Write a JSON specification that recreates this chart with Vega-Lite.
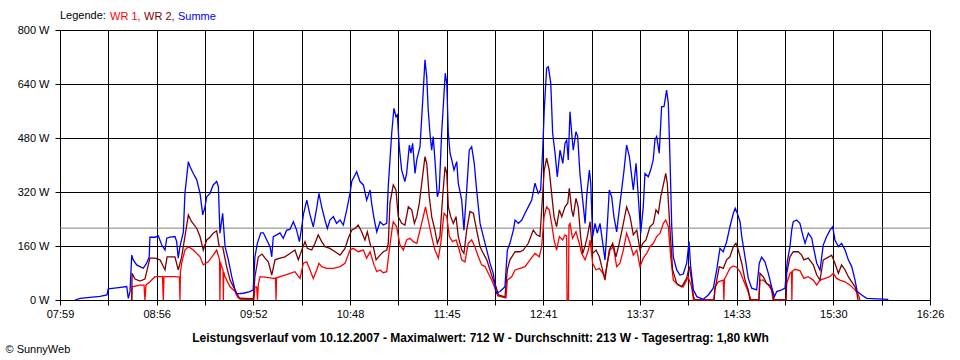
{
"$schema":"https://vega.github.io/schema/vega-lite/v6.json",
"width":870,"height":270,
"autosize":{"type":"none"},
"padding":{"left":60,"top":30,"right":30,"bottom":60},
"background":"white",
"config":{"font":"Liberation Sans","view":{"stroke":null},
"axis":{"domainColor":"#000","tickColor":"#000","gridColor":"#000","gridOpacity":1,"gridWidth":1,"labelColor":"#000","labelFontSize":11,"labelFont":"Liberation Sans","tickSize":5,"titleColor":"#000","titleFont":"Liberation Sans"}},
"datasets":{
"summe":[{"t":8.7,"w":0},{"t":11.7,"w":5},{"t":17.5,"w":8},{"t":23.3,"w":11},{"t":27.4,"w":15},{"t":28.1,"w":33},{"t":33,"w":36},{"t":38.9,"w":40},{"t":39.8,"w":5},{"t":40.8,"w":25},{"t":41.8,"w":133},{"t":42.7,"w":119},{"t":44.7,"w":104},{"t":46.6,"w":99},{"t":48.5,"w":94},{"t":50.5,"w":109},{"t":52.0,"w":128},{"t":52.4,"w":186},{"t":55.4,"w":186},{"t":57.3,"w":190},{"t":59.3,"w":163},{"t":61.2,"w":148},{"t":62.2,"w":183},{"t":64.1,"w":186},{"t":67.0,"w":188},{"t":68.0,"w":173},{"t":68.9,"w":124},{"t":69.9,"w":158},{"t":71.9,"w":202},{"t":72.8,"w":316},{"t":74.8,"w":410},{"t":75.8,"w":395},{"t":77.7,"w":375},{"t":79.7,"w":356},{"t":81.6,"w":316},{"t":83.2,"w":252},{"t":84.5,"w":276},{"t":85.5,"w":306},{"t":87.4,"w":316},{"t":89.3,"w":341},{"t":91.3,"w":351},{"t":92.3,"w":336},{"t":93.2,"w":198},{"t":94.8,"w":257},{"t":96.2,"w":158},{"t":98.1,"w":119},{"t":100.1,"w":69},{"t":102.0,"w":30},{"t":103.0,"w":18},{"t":106.8,"w":20},{"t":110.7,"w":25},{"t":112.6,"w":30},{"t":113.6,"w":128},{"t":115.0,"w":168},{"t":117.0,"w":199},{"t":118.5,"w":199},{"t":120.5,"w":178},{"t":122.4,"w":158},{"t":123.4,"w":128},{"t":124.3,"w":188},{"t":126.3,"w":193},{"t":128.2,"w":199},{"t":130.1,"w":183},{"t":132.1,"w":207},{"t":134.0,"w":209},{"t":136.0,"w":232},{"t":137.9,"w":207},{"t":139.5,"w":173},{"t":140.9,"w":217},{"t":141.8,"w":252},{"t":143.8,"w":296},{"t":145.7,"w":252},{"t":147.6,"w":217},{"t":149.6,"w":272},{"t":150.9,"w":316},{"t":152.5,"w":276},{"t":154.4,"w":237},{"t":155.8,"w":212},{"t":157.3,"w":237},{"t":159.3,"w":247},{"t":161.2,"w":227},{"t":163.2,"w":237},{"t":165.1,"w":222},{"t":167.1,"w":267},{"t":169.0,"w":316},{"t":170.0,"w":351},{"t":172.9,"w":380},{"t":174.8,"w":351},{"t":176.8,"w":341},{"t":178.7,"w":296},{"t":180.7,"w":326},{"t":181.6,"w":287},{"t":183.0,"w":242},{"t":184.6,"w":202},{"t":186.5,"w":232},{"t":188.4,"w":222},{"t":190.4,"w":227},{"t":191.3,"w":336},{"t":193.3,"w":494},{"t":194.6,"w":568},{"t":195.8,"w":543},{"t":196.6,"w":548},{"t":197.7,"w":454},{"t":199.1,"w":385},{"t":201.0,"w":351},{"t":202.0,"w":375},{"t":203.6,"w":459},{"t":204.5,"w":435},{"t":205.5,"w":464},{"t":206.9,"w":375},{"t":207.9,"w":415},{"t":209.8,"w":454},{"t":211.4,"w":593},{"t":212.7,"w":712},{"t":213.7,"w":662},{"t":214.6,"w":563},{"t":215.6,"w":494},{"t":216.6,"w":444},{"t":217.5,"w":484},{"t":218.5,"w":415},{"t":219.9,"w":306},{"t":221.0,"w":326},{"t":222.4,"w":494},{"t":223.8,"w":612},{"t":224.5,"w":672},{"t":225.4,"w":642},{"t":226.3,"w":494},{"t":227.3,"w":435},{"t":228.3,"w":415},{"t":229.6,"w":385},{"t":231.2,"w":410},{"t":232.1,"w":346},{"t":234.1,"w":296},{"t":235.4,"w":207},{"t":237.0,"w":326},{"t":238.5,"w":444},{"t":239.9,"w":454},{"t":241.4,"w":405},{"t":242.8,"w":326},{"t":244.8,"w":227},{"t":246.7,"w":188},{"t":248.7,"w":148},{"t":250.6,"w":109},{"t":252.5,"w":79},{"t":254.1,"w":20},{"t":256.4,"w":25},{"t":259.3,"w":39},{"t":260.7,"w":148},{"t":262.2,"w":168},{"t":264.2,"w":207},{"t":265.2,"w":237},{"t":267.1,"w":227},{"t":269.1,"w":237},{"t":271.0,"w":257},{"t":272.9,"w":276},{"t":274.9,"w":296},{"t":276.8,"w":346},{"t":278.7,"w":316},{"t":280.1,"w":326},{"t":281.3,"w":444},{"t":282.2,"w":563},{"t":283.6,"w":687},{"t":284.6,"w":691},{"t":286.0,"w":642},{"t":287.1,"w":494},{"t":288.5,"w":435},{"t":289.8,"w":365},{"t":291.4,"w":444},{"t":293.0,"w":405},{"t":294.3,"w":464},{"t":295.3,"w":474},{"t":296.2,"w":415},{"t":297.2,"w":558},{"t":298.2,"w":494},{"t":299.1,"w":444},{"t":300.7,"w":499},{"t":301.7,"w":484},{"t":303.0,"w":375},{"t":304.6,"w":296},{"t":306.0,"w":227},{"t":306.9,"w":306},{"t":308.5,"w":385},{"t":309.3,"w":346},{"t":310.4,"w":188},{"t":311.8,"w":227},{"t":313.1,"w":198},{"t":314.7,"w":227},{"t":316.3,"w":168},{"t":317.6,"w":119},{"t":319.0,"w":227},{"t":320.1,"w":326},{"t":321.5,"w":306},{"t":322.8,"w":247},{"t":324.4,"w":202},{"t":325.9,"w":267},{"t":327.3,"w":326},{"t":328.7,"w":385},{"t":330.2,"w":459},{"t":331.8,"w":425},{"t":333.2,"w":365},{"t":334.1,"w":326},{"t":335.7,"w":405},{"t":337.0,"w":306},{"t":338.4,"w":198},{"t":339.9,"w":276},{"t":340.9,"w":375},{"t":342.8,"w":365},{"t":344.2,"w":385},{"t":345.7,"w":415},{"t":346.7,"w":474},{"t":347.7,"w":484},{"t":349.2,"w":435},{"t":350.6,"w":573},{"t":352.0,"w":573},{"t":353.5,"w":622},{"t":354.5,"w":583},{"t":355.5,"w":415},{"t":356.5,"w":217},{"t":357.4,"w":128},{"t":359.4,"w":89},{"t":361.3,"w":74},{"t":363.2,"w":77},{"t":365.2,"w":109},{"t":366.6,"w":173},{"t":367.5,"w":99},{"t":369.1,"w":30},{"t":371.1,"w":10},{"t":374.9,"w":2},{"t":377.8,"w":15},{"t":380.7,"w":35},{"t":382.7,"w":89},{"t":384.6,"w":153},{"t":386.5,"w":143},{"t":388.5,"w":173},{"t":390.4,"w":217},{"t":392.4,"w":257},{"t":393.5,"w":272},{"t":394.7,"w":257},{"t":396.3,"w":232},{"t":397.3,"w":188},{"t":399.2,"w":128},{"t":401.1,"w":64},{"t":403.1,"w":35},{"t":406.0,"w":30},{"t":407.5,"w":109},{"t":408.9,"w":127},{"t":410.8,"w":113},{"t":412.8,"w":79},{"t":414.7,"w":39},{"t":416.3,"w":10},{"t":417.7,"w":25},{"t":420.6,"w":30},{"t":422.5,"w":35},{"t":423.8,"w":113},{"t":425.4,"w":158},{"t":426.4,"w":207},{"t":427.3,"w":232},{"t":429.3,"w":237},{"t":431.2,"w":227},{"t":432.8,"w":193},{"t":434.2,"w":168},{"t":436.1,"w":198},{"t":438.1,"w":183},{"t":439.0,"w":158},{"t":441.0,"w":109},{"t":442.9,"w":89},{"t":444.8,"w":163},{"t":446.8,"w":188},{"t":448.7,"w":207},{"t":450.3,"w":217},{"t":451.6,"w":178},{"t":453.6,"w":158},{"t":455.5,"w":168},{"t":457.5,"w":148},{"t":459.4,"w":119},{"t":461.4,"w":99},{"t":463.3,"w":59},{"t":464.6,"w":25},{"t":467.2,"w":15},{"t":470.1,"w":5},{"t":482.7,"w":2}],
"wr2":[{"t":41.8,"w":0},{"t":42.0,"w":79},{"t":43.7,"w":62},{"t":46.6,"w":56},{"t":49.5,"w":62},{"t":52.4,"w":124},{"t":55.4,"w":124},{"t":58.3,"w":119},{"t":61.2,"w":89},{"t":62.4,"w":128},{"t":67.0,"w":128},{"t":68.9,"w":89},{"t":70.9,"w":128},{"t":72.8,"w":188},{"t":74.8,"w":252},{"t":76.7,"w":232},{"t":79.7,"w":212},{"t":81.6,"w":188},{"t":83.5,"w":148},{"t":85.5,"w":178},{"t":87.4,"w":186},{"t":89.3,"w":198},{"t":91.3,"w":205},{"t":92.8,"w":158},{"t":94.8,"w":158},{"t":97.1,"w":99},{"t":99.1,"w":59},{"t":102.0,"w":30},{"t":103.0,"w":20},{"t":104.9,"w":3},{"t":112.6,"w":3},{"t":113.6,"w":69},{"t":115.6,"w":128},{"t":117.7,"w":136},{"t":119.5,"w":124},{"t":121.4,"w":113},{"t":123.4,"w":74},{"t":125.3,"w":119},{"t":128.2,"w":124},{"t":131.1,"w":128},{"t":134.0,"w":138},{"t":136.9,"w":148},{"t":138.9,"w":119},{"t":140.9,"w":148},{"t":142.8,"w":173},{"t":144.1,"w":153},{"t":146.7,"w":148},{"t":148.6,"w":168},{"t":150.5,"w":193},{"t":152.5,"w":173},{"t":154.4,"w":158},{"t":157.3,"w":153},{"t":160.3,"w":143},{"t":163.2,"w":133},{"t":166.1,"w":153},{"t":168.0,"w":183},{"t":170.0,"w":207},{"t":171.9,"w":212},{"t":173.8,"w":222},{"t":175.8,"w":202},{"t":177.7,"w":178},{"t":179.1,"w":202},{"t":181.1,"w":158},{"t":182.6,"w":158},{"t":184.2,"w":119},{"t":186.5,"w":133},{"t":188.4,"w":143},{"t":190.4,"w":148},{"t":191.3,"w":168},{"t":192.3,"w":287},{"t":194.2,"w":341},{"t":195.8,"w":326},{"t":197.1,"w":247},{"t":199.1,"w":227},{"t":201.0,"w":222},{"t":203.0,"w":276},{"t":205.0,"w":267},{"t":206.5,"w":227},{"t":207.9,"w":247},{"t":209.4,"w":287},{"t":210.8,"w":346},{"t":212.7,"w":425},{"t":213.7,"w":405},{"t":215.2,"w":306},{"t":216.6,"w":247},{"t":218.5,"w":207},{"t":219.9,"w":168},{"t":221.4,"w":188},{"t":223.0,"w":306},{"t":224.4,"w":395},{"t":225.4,"w":375},{"t":226.3,"w":276},{"t":227.7,"w":247},{"t":229.2,"w":227},{"t":230.8,"w":247},{"t":232.1,"w":188},{"t":234.1,"w":148},{"t":235.4,"w":138},{"t":237.0,"w":207},{"t":238.9,"w":262},{"t":240.9,"w":257},{"t":242.8,"w":207},{"t":244.8,"w":158},{"t":246.7,"w":138},{"t":248.7,"w":119},{"t":250.6,"w":89},{"t":252.5,"w":59},{"t":254.1,"w":39},{"t":255.5,"w":15},{"t":259.3,"w":9},{"t":260.7,"w":89},{"t":262.2,"w":119},{"t":265.2,"w":143},{"t":268.1,"w":143},{"t":270.0,"w":148},{"t":272.9,"w":168},{"t":275.8,"w":207},{"t":277.8,"w":193},{"t":279.7,"w":188},{"t":280.7,"w":267},{"t":282.2,"w":385},{"t":283.6,"w":420},{"t":285.1,"w":385},{"t":286.5,"w":316},{"t":287.9,"w":247},{"t":289.4,"w":217},{"t":291.0,"w":267},{"t":292.4,"w":247},{"t":294.3,"w":276},{"t":295.9,"w":287},{"t":296.8,"w":331},{"t":298.2,"w":267},{"t":299.1,"w":247},{"t":300.7,"w":301},{"t":302.0,"w":276},{"t":303.4,"w":188},{"t":304.6,"w":138},{"t":305.9,"w":158},{"t":307.3,"w":188},{"t":308.9,"w":232},{"t":310.4,"w":138},{"t":312.4,"w":148},{"t":314.3,"w":128},{"t":315.7,"w":99},{"t":317.6,"w":59},{"t":318.6,"w":99},{"t":320.1,"w":148},{"t":322.1,"w":168},{"t":324.0,"w":128},{"t":325.9,"w":168},{"t":327.9,"w":217},{"t":330.2,"w":276},{"t":332.2,"w":247},{"t":334.1,"w":193},{"t":336.1,"w":207},{"t":338.0,"w":148},{"t":339.6,"w":168},{"t":341.5,"w":178},{"t":343.8,"w":217},{"t":345.8,"w":227},{"t":347.3,"w":267},{"t":348.7,"w":257},{"t":350.1,"w":306},{"t":351.6,"w":341},{"t":353.0,"w":375},{"t":353.9,"w":346},{"t":355.5,"w":207},{"t":357.0,"w":89},{"t":359.4,"w":49},{"t":362.3,"w":39},{"t":365.2,"w":65},{"t":366.7,"w":99},{"t":368.1,"w":59},{"t":369.1,"w":10},{"t":370.1,"w":0},{"t":381.1,"w":0},{"t":381.7,"w":30},{"t":383.1,"w":69},{"t":384.2,"w":99},{"t":386.5,"w":94},{"t":388.5,"w":119},{"t":390.4,"w":128},{"t":392.4,"w":158},{"t":393.9,"w":168},{"t":395.3,"w":148},{"t":397.3,"w":109},{"t":399.2,"w":59},{"t":401.1,"w":30},{"t":402.1,"w":0},{"t":407.3,"w":0},{"t":407.9,"w":79},{"t":409.8,"w":69},{"t":411.8,"w":49},{"t":413.8,"w":44},{"t":415.3,"w":20},{"t":416.1,"w":0},{"t":423.1,"w":0},{"t":423.5,"w":79},{"t":425.4,"w":128},{"t":427.3,"w":143},{"t":430.2,"w":143},{"t":432.2,"w":133},{"t":433.5,"w":119},{"t":436.0,"w":124},{"t":439.0,"w":104},{"t":441.0,"w":74},{"t":442.9,"w":59},{"t":444.8,"w":119},{"t":446.8,"w":124},{"t":449.7,"w":133},{"t":451.6,"w":109},{"t":453.6,"w":79},{"t":455.5,"w":104},{"t":457.5,"w":89},{"t":459.4,"w":69},{"t":461.4,"w":54},{"t":463.3,"w":39},{"t":464.3,"w":25},{"t":465.0,"w":0}],
"wr1":[{"t":41.8,"w":0},{"t":42.0,"w":39},{"t":46.6,"w":44},{"t":49.0,"w":44},{"t":49.5,"w":0},{"t":50.1,"w":44},{"t":52.4,"w":54},{"t":55.4,"w":69},{"t":59.7,"w":69},{"t":60.2,"w":0},{"t":60.6,"w":69},{"t":67.0,"w":69},{"t":69.6,"w":68},{"t":69.9,"w":0},{"t":70.2,"w":83},{"t":70.9,"w":109},{"t":72.8,"w":148},{"t":74.8,"w":158},{"t":77.7,"w":148},{"t":81.6,"w":128},{"t":83.5,"w":104},{"t":86.4,"w":113},{"t":89.3,"w":133},{"t":91.3,"w":148},{"t":93.0,"w":119},{"t":93.2,"w":0},{"t":93.5,"w":113},{"t":94.2,"w":99},{"t":95.0,"w":89},{"t":95.2,"w":0},{"t":95.4,"w":83},{"t":96.2,"w":69},{"t":99.1,"w":39},{"t":102.0,"w":25},{"t":103.7,"w":6},{"t":113.1,"w":3},{"t":113.6,"w":39},{"t":114.6,"w":39},{"t":115.1,"w":0},{"t":115.6,"w":47},{"t":116.6,"w":69},{"t":120.5,"w":67},{"t":124.3,"w":64},{"t":125.6,"w":65},{"t":125.9,"w":0},{"t":126.2,"w":65},{"t":128.2,"w":69},{"t":131.1,"w":74},{"t":134.0,"w":79},{"t":136.9,"w":84},{"t":139.9,"w":64},{"t":141.8,"w":109},{"t":143.8,"w":113},{"t":145.7,"w":89},{"t":147.6,"w":64},{"t":149.6,"w":89},{"t":150.9,"w":109},{"t":152.5,"w":99},{"t":155.4,"w":94},{"t":159.3,"w":94},{"t":163.2,"w":99},{"t":166.1,"w":109},{"t":169.0,"w":148},{"t":170.9,"w":153},{"t":173.8,"w":143},{"t":176.8,"w":148},{"t":178.7,"w":124},{"t":180.7,"w":143},{"t":183.0,"w":104},{"t":184.6,"w":84},{"t":186.5,"w":89},{"t":188.4,"w":81},{"t":190.4,"w":84},{"t":191.9,"w":148},{"t":193.3,"w":202},{"t":194.2,"w":232},{"t":196.2,"w":217},{"t":198.1,"w":163},{"t":200.1,"w":148},{"t":202.0,"w":178},{"t":204.0,"w":183},{"t":205.9,"w":173},{"t":207.9,"w":168},{"t":209.8,"w":207},{"t":211.7,"w":247},{"t":213.0,"w":276},{"t":214.6,"w":237},{"t":216.6,"w":188},{"t":218.5,"w":148},{"t":220.5,"w":124},{"t":221.9,"w":168},{"t":223.8,"w":257},{"t":225.4,"w":247},{"t":226.9,"w":188},{"t":228.8,"w":173},{"t":230.8,"w":178},{"t":232.7,"w":148},{"t":234.1,"w":119},{"t":236.0,"w":113},{"t":237.9,"w":168},{"t":239.9,"w":178},{"t":241.8,"w":158},{"t":243.8,"w":128},{"t":245.7,"w":104},{"t":247.7,"w":99},{"t":249.6,"w":79},{"t":251.6,"w":59},{"t":253.5,"w":35},{"t":255.2,"w":12},{"t":259.9,"w":6},{"t":260.7,"w":59},{"t":263.2,"w":69},{"t":265.2,"w":89},{"t":268.1,"w":94},{"t":271.0,"w":99},{"t":273.9,"w":119},{"t":276.8,"w":138},{"t":279.3,"w":128},{"t":280.7,"w":158},{"t":282.1,"w":247},{"t":283.6,"w":276},{"t":285.1,"w":267},{"t":286.5,"w":227},{"t":287.9,"w":178},{"t":289.4,"w":148},{"t":291.0,"w":188},{"t":292.9,"w":178},{"t":294.3,"w":193},{"t":295.2,"w":190},{"t":295.5,"w":0},{"t":296.3,"w":0},{"t":296.6,"w":222},{"t":297.2,"w":227},{"t":298.7,"w":183},{"t":300.7,"w":202},{"t":302.6,"w":168},{"t":304.0,"w":138},{"t":306.0,"w":119},{"t":307.9,"w":148},{"t":308.9,"w":178},{"t":310.4,"w":109},{"t":312.4,"w":89},{"t":314.3,"w":94},{"t":315.7,"w":84},{"t":317.6,"w":69},{"t":319.0,"w":109},{"t":320.5,"w":148},{"t":322.5,"w":158},{"t":324.4,"w":99},{"t":326.3,"w":109},{"t":328.3,"w":148},{"t":330.2,"w":198},{"t":332.2,"w":168},{"t":334.1,"w":133},{"t":336.1,"w":148},{"t":338.0,"w":99},{"t":339.9,"w":124},{"t":341.9,"w":138},{"t":343.8,"w":158},{"t":345.8,"w":168},{"t":347.7,"w":188},{"t":349.7,"w":198},{"t":351.6,"w":227},{"t":353.0,"w":237},{"t":354.5,"w":217},{"t":355.9,"w":128},{"t":357.4,"w":59},{"t":360.3,"w":44},{"t":363.2,"w":39},{"t":366.1,"w":68},{"t":368.1,"w":39},{"t":369.2,"w":0},{"t":381.1,"w":0},{"t":381.7,"w":39},{"t":383.6,"w":54},{"t":386.5,"w":59},{"t":386.9,"w":0},{"t":387.2,"w":62},{"t":388.5,"w":74},{"t":390.4,"w":94},{"t":392.4,"w":101},{"t":394.3,"w":97},{"t":396.3,"w":84},{"t":398.2,"w":59},{"t":400.2,"w":35},{"t":401.7,"w":15},{"t":402.7,"w":0},{"t":407.3,"w":0},{"t":407.9,"w":59},{"t":409.8,"w":59},{"t":412.8,"w":44},{"t":414.7,"w":30},{"t":415.5,"w":0},{"t":423.1,"w":0},{"t":423.5,"w":49},{"t":425.4,"w":79},{"t":426.3,"w":83},{"t":426.5,"w":0},{"t":426.8,"w":85},{"t":428.3,"w":91},{"t":431.2,"w":87},{"t":433.5,"w":64},{"t":436.0,"w":69},{"t":439.0,"w":59},{"t":441.0,"w":44},{"t":442.9,"w":59},{"t":445.8,"w":64},{"t":448.7,"w":69},{"t":450.7,"w":79},{"t":452.6,"w":64},{"t":454.5,"w":59},{"t":457.5,"w":54},{"t":460.4,"w":44},{"t":463.3,"w":30},{"t":465.3,"w":15},{"t":466.2,"w":0}]
},
"layer":[
{"data":{"values":[{"avg":213}]},
 "mark":{"type":"rule","color":"#808080","strokeWidth":1},
 "encoding":{"y":{"field":"avg","type":"quantitative",
   "scale":{"domain":[0,800],"nice":false,"zero":true},
   "axis":{"values":[0,160,320,480,640,800],"labelExpr":"datum.value + ' W'","grid":true,"labelPadding":6,
     "title":"© SunnyWeb","titleAngle":0,"titleX":-55,"titleY":319,"titleAlign":"left","titleBaseline":"middle","titleFontWeight":"normal","titleFontSize":11}}}},
{"data":{"name":"wr1"},
 "mark":{"type":"line","strokeWidth":1.3,"interpolate":"linear"},
 "encoding":{
  "x":{"field":"t","type":"quantitative","scale":{"domain":[0,507],"nice":false,"zero":false},
    "axis":{"values":[0,28.1667,56.3333,84.5,112.6667,140.8333,169,197.1667,225.3333,253.5,281.6667,309.8333,338,366.1667,394.3333,422.5,450.6667,478.8333,507],
      "labelExpr":"['07:59','','08:56','','09:52','','10:48','','11:45','','12:41','','13:37','','14:33','','15:30','','16:26'][round(datum.value/28.16667)]",
      "grid":true,"labelPadding":3,"labelFlush":false,"labelOverlap":false,
      "title":"Leistungsverlauf vom 10.12.2007 - Maximalwert: 712 W - Durchschnitt: 213 W - Tagesertrag: 1,80 kWh",
      "titleFontWeight":"bold","titleFontSize":12,"titleX":420,"titleY":37,"titleBaseline":"middle","titleAlign":"center"}},
  "y":{"field":"w","type":"quantitative"},
  "color":{"datum":"WR 1","type":"nominal",
    "scale":{"domain":["WR 1","WR 2","Summe"],"range":["#ff0000","#800000","#0000ff"]},
    "legend":{"orient":"none","legendX":0,"legendY":-19,"direction":"horizontal",
      "title":"Legende:","titleOrient":"left","titleFontWeight":"normal","titleFontSize":11,"titleColor":"#000","titleFont":"Liberation Sans","titlePadding":5,"titleBaseline":"middle",
      "labelFontSize":11,"labelFont":"Liberation Sans","symbolSize":0,"symbolOpacity":0,"symbolStrokeWidth":0,"labelOffset":-12,"columnPadding":3,
      "labelExpr":"datum.value == 'Summe' ? 'Summe' : datum.value + ','",
      "encoding":{"labels":{"fill":{"condition":[{"test":"datum.value == 'Summe'","value":"#0000ff"},{"test":"datum.value == 'WR 2'","value":"#800000"}],"value":"#ff0000"}}}}}}},
{"data":{"name":"wr2"},
 "mark":{"type":"line","strokeWidth":1.3,"interpolate":"linear"},
 "encoding":{"x":{"field":"t","type":"quantitative"},"y":{"field":"w","type":"quantitative"},"color":{"datum":"WR 2","type":"nominal"}}},
{"data":{"name":"summe"},
 "mark":{"type":"line","strokeWidth":1.3,"interpolate":"linear"},
 "encoding":{"x":{"field":"t","type":"quantitative"},"y":{"field":"w","type":"quantitative"},"color":{"datum":"Summe","type":"nominal"}}}
]
}
